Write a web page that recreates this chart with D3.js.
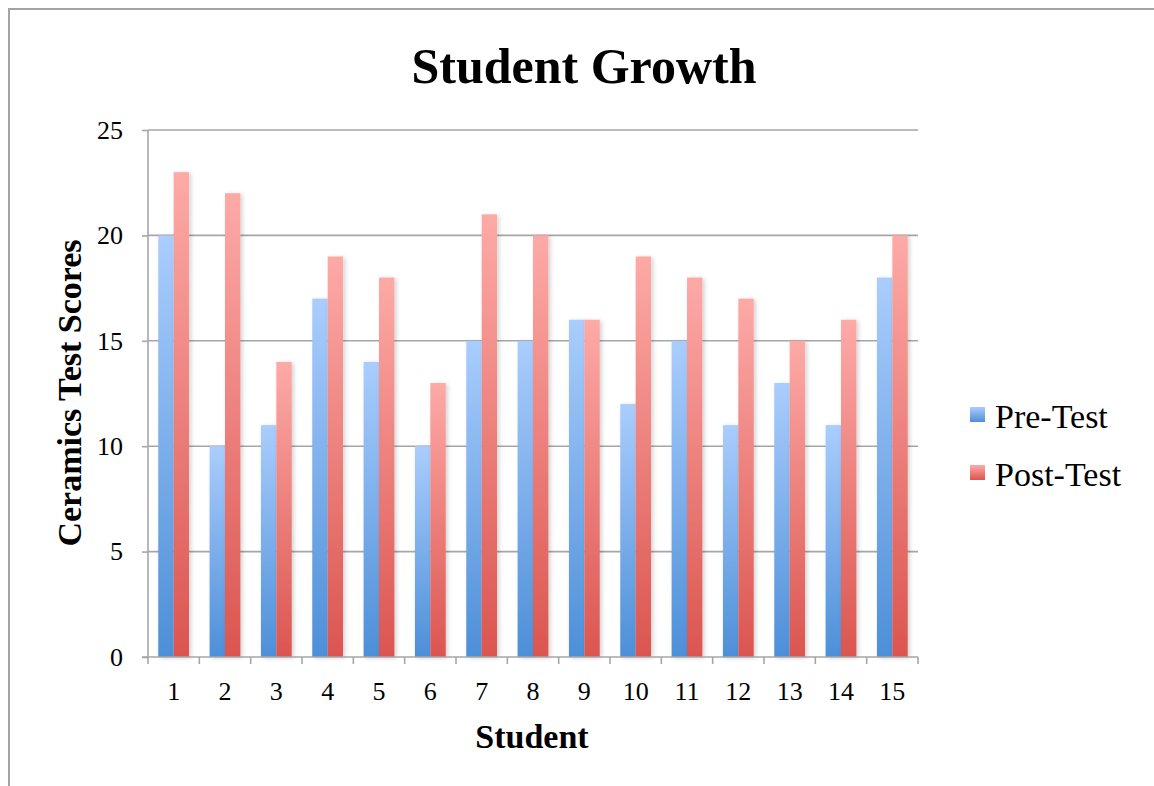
<!DOCTYPE html>
<html><head><meta charset="utf-8">
<script src="https://cdnjs.cloudflare.com/ajax/libs/d3/7.8.5/d3.min.js"></script>
<style>body{margin:0;background:#fff}svg{display:block}text{font-family:"Liberation Serif","DejaVu Serif",serif;fill:#000}</style>
</head><body>
<script>
const students = ["1","2","3","4","5","6","7","8","9","10","11","12","13","14","15"];
const preTest  = [20,10,11,17,14,10,15,15,16,12,15,11,13,11,18];
const postTest = [23,22,14,19,18,13,21,20,16,19,18,17,15,16,20];
const seriesNames = ["Pre-Test","Post-Test"];
const yTicks = [0,5,10,15,20,25];

const W=1154,H=786;
const svg=d3.select("body").append("svg").attr("width",W).attr("height",H);
const defs=svg.append("defs");
function grad(id,top,bot){const g=defs.append("linearGradient").attr("id",id).attr("x1",0).attr("y1",0).attr("x2",0).attr("y2",1);
 g.append("stop").attr("offset","0%").attr("stop-color",top);g.append("stop").attr("offset","100%").attr("stop-color",bot);}
grad("gBlue","#aacdfd","#4d8fd8");
grad("gRed","#fdaaa7","#db5550");
const f=defs.append("filter").attr("id","sh").attr("x","-30%").attr("y","-10%").attr("width","180%").attr("height","120%");
f.append("feDropShadow").attr("dx",2).attr("dy",1).attr("stdDeviation",2).attr("flood-color","#000").attr("flood-opacity",0.18);

// frame
svg.append("path").attr("d",`M9,${H} V9 H${W}`).attr("fill","none").attr("stroke","#a3a3a3").attr("stroke-width",2);

const L=148,R=918,T=130,B=657;
const y=d3.scaleLinear().domain([0,25]).range([B,T]);
const x0=d3.scaleBand().domain(students).range([L,R]).paddingInner(0.4).paddingOuter(0.2);
const x1=d3.scaleBand().domain(seriesNames).range([0,x0.bandwidth()]);

// gridlines
svg.append("g").selectAll("line").data(yTicks.filter(d=>d>0)).join("line")
 .attr("x1",L).attr("x2",R).attr("y1",d=>y(d)).attr("y2",d=>y(d)).attr("stroke","#a6a6a6").attr("stroke-width",1.6);

// bars
const data=students.map((s,i)=>({s,vals:[preTest[i],postTest[i]]}));
const gb=svg.append("g");
data.forEach(d=>{
  d.vals.forEach((v,j)=>{
    gb.append("rect").attr("x",x0(d.s)+x1(seriesNames[j])).attr("y",y(v)).attr("width",x1.bandwidth()).attr("height",B-y(v))
     .attr("fill",j?"url(#gRed)":"url(#gBlue)").attr("filter","url(#sh)");
  });
});

// y axis
const yAxis=d3.axisLeft(y).tickValues(yTicks).tickSize(6).tickPadding(19);
const ya=svg.append("g").attr("transform",`translate(${L},0)`).call(yAxis);
ya.select(".domain").attr("stroke","#a6a6a6").attr("stroke-width",1.6).attr("d",`M0,${B}V${T}`);
ya.selectAll(".tick line").attr("stroke","#a6a6a6").attr("stroke-width",1.6);
ya.selectAll(".tick text").attr("font-size",26).attr("font-family","Liberation Serif").attr("fill","#000");

// x axis
const xs=d3.scaleLinear().domain([0,15]).range([L,R]);
const xa=svg.append("g");
xa.append("line").attr("x1",L-6).attr("x2",R).attr("y1",B).attr("y2",B).attr("stroke","#a6a6a6").attr("stroke-width",1.6);
xa.selectAll("line.t").data(d3.range(16)).join("line").attr("class","t")
 .attr("x1",d=>xs(d)).attr("x2",d=>xs(d)).attr("y1",B).attr("y2",B+7).attr("stroke","#a6a6a6").attr("stroke-width",1.6);
xa.selectAll("text").data(students).join("text").attr("x",d=>x0(d)+x0.bandwidth()/2).attr("y",700)
 .attr("text-anchor","middle").attr("font-size",26).text(d=>d);

// titles
svg.append("text").attr("x",584).attr("y",83).attr("text-anchor","middle").attr("font-size",50).attr("font-weight","bold").text("Student Growth");
svg.append("text").attr("x",532).attr("y",748).attr("text-anchor","middle").attr("font-size",34).attr("font-weight","bold").text("Student");
svg.append("text").attr("transform","translate(81,393) rotate(-90)").attr("text-anchor","middle").attr("font-size",34).attr("font-weight","bold").text("Ceramics Test Scores");

// legend
const lg=svg.append("g");
seriesNames.forEach((n,i)=>{
  const yy=415+i*58;
  lg.append("rect").attr("x",970).attr("y",yy-8).attr("width",15).attr("height",15).attr("fill",i?"url(#gRed)":"url(#gBlue)");
  lg.append("text").attr("x",995).attr("y",yy+13).attr("font-size",34).text(n);
});
</script>
</body></html>
